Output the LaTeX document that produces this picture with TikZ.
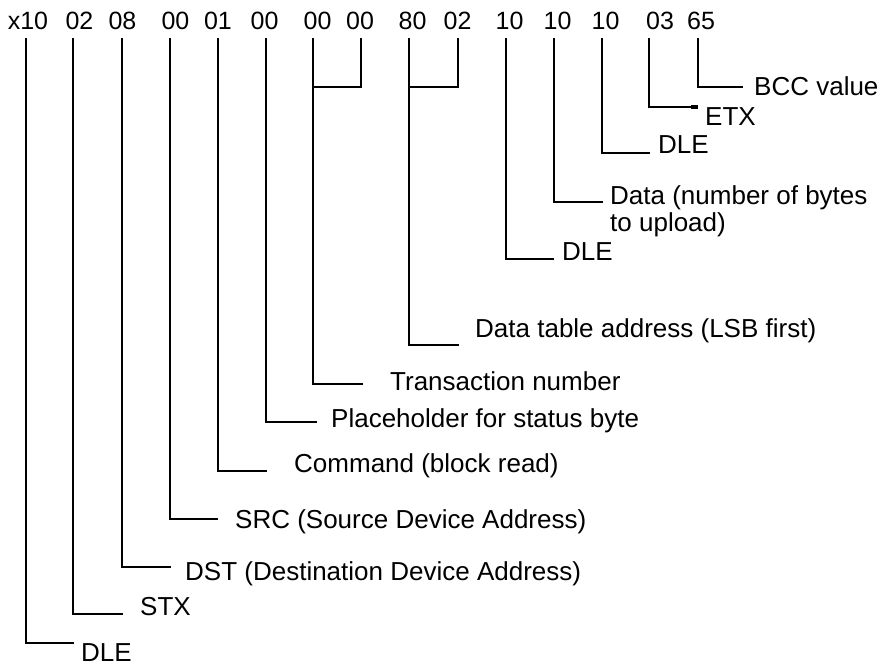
\documentclass[tikz,border=0pt]{standalone}
\usepackage{fontspec}
\setmainfont{Liberation Sans}
\usetikzlibrary{arrows.meta}
\begin{document}
\begin{tikzpicture}[x=1pt,y=1pt,
  num/.style={inner sep=0pt,anchor=base,font=\fontsize{25}{28}\selectfont},
  lbl/.style={inner sep=0pt,anchor=base west,font=\fontsize{26}{27}\selectfont},
  conn/.style={line width=2.3pt,black}]
\useasboundingbox (0,0) rectangle (882,-665);
% top row of bytes
\node[num] (n1)  at (28,-29.3)    {x10};
\node[num] (n2)  at (79.5,-29.3)  {02};
\node[num] (n3)  at (122.5,-29.3) {08};
\node[num] (n4)  at (175.5,-29.3) {00};
\node[num] (n5)  at (218,-29.3)   {01};
\node[num] (n6)  at (264.5,-29.3) {00};
\node[num] (n7)  at (317.5,-29.3) {00};
\node[num] (n8)  at (360,-29.3)   {00};
\node[num] (n9)  at (412.5,-29.3) {80};
\node[num] (n10) at (457.5,-29.3) {02};
\node[num] (n11) at (509.5,-29.3) {10};
\node[num] (n12) at (557.5,-29.3) {10};
\node[num] (n13) at (605.5,-29.3) {10};
\node[num] (n14) at (660,-29.3)   {03};
\node[num] (n15) at (701,-29.3)   {65};
% labels
\node[lbl] (l1)  at (81,-661)  {DLE};
\node[lbl] (l2)  at (140,-615) {STX};
\node[lbl] (l3)  at (185,-580) {DST (Destination Device Address)};
\node[lbl] (l4)  at (235,-528) {SRC (Source Device Address)};
\node[lbl] (l5)  at (294,-472) {Command (block read)};
\node[lbl] (l6)  at (331,-427) {Placeholder for status byte};
\node[lbl] (l7)  at (390,-390) {Transaction number};
\node[lbl] (l8)  at (475,-337) {Data table address (LSB first)};
\node[lbl] (l9)  at (562,-260) {DLE};
\node[lbl,align=left] (l10) at (610,-231) {Data (number of bytes\\to upload)};
\node[lbl] (l11) at (658,-153) {DLE};
\node[lbl] (l12) at (705,-125) {ETX};
\node[lbl] (l13) at (754,-95)  {BCC value};
% line tops
\coordinate (t1)  at (26,-38);
\coordinate (t2)  at (73,-38);
\coordinate (t3)  at (122,-38);
\coordinate (t4)  at (170,-38);
\coordinate (t5)  at (218,-38);
\coordinate (t6)  at (266,-38);
\coordinate (t7)  at (313,-38);
\coordinate (t8)  at (361,-38);
\coordinate (t9)  at (409,-38);
\coordinate (t10) at (458,-38);
\coordinate (t11) at (506,-38);
\coordinate (t12) at (554,-38);
\coordinate (t13) at (602,-38);
\coordinate (t14) at (649,-38);
\coordinate (t15) at (698,-38);
% free ends
\coordinate (e1)  at (74,-643);
\coordinate (e2)  at (123,-614);
\coordinate (e3)  at (171,-567);
\coordinate (e4)  at (218,-519);
\coordinate (e5)  at (267,-471);
\coordinate (e6)  at (317,-422);
\coordinate (e7)  at (363,-384);
\coordinate (e8)  at (459,-345);
\coordinate (e9)  at (554,-259);
\coordinate (e10) at (603,-202);
\coordinate (e11) at (650,-153);
\coordinate (e12) at (698,-107);
\coordinate (e13) at (743,-87);
\coordinate (j1)  at (313,-87);
\coordinate (j2)  at (409,-87);
% connectors
\draw[conn] (t1) |- (e1);
\draw[conn] (t2) |- (e2);
\draw[conn] (t3) |- (e3);
\draw[conn] (t4) |- (e4);
\draw[conn] (t5) |- (e5);
\draw[conn] (t6) |- (e6);
\draw[conn] (t8) |- (j1);
\draw[conn] (t7) |- (e7);
\draw[conn] (t10) |- (j2);
\draw[conn] (t9) |- (e8);
\draw[conn] (t11) |- (e9);
\draw[conn] (t12) |- (e10);
\draw[conn] (t13) |- (e11);
\draw[conn,-{Rectangle[length=7pt,width=3.5pt]}] (t14) |- (e12);
\draw[conn] (t15) |- (e13);
\end{tikzpicture}
\end{document}
